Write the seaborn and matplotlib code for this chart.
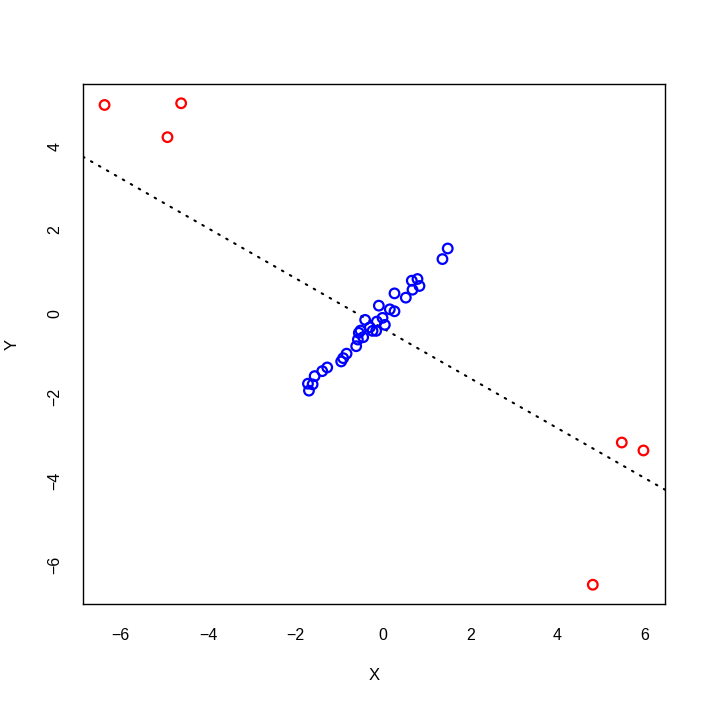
import numpy as np
import pandas as pd
import matplotlib
matplotlib.use("Agg")
import matplotlib.pyplot as plt
import seaborn as sns

# Blue cluster (main data)
x_main = [1.486, 1.365, 0.793, 0.663, 0.839, 0.679, 0.267, 0.526, -0.091, 0.160,
          0.267, -0.405, -0.007, -0.137, 0.046, -0.297, -0.153, -0.235, -0.510, -0.549,
          -0.450, -0.571, -0.610, -0.830, -0.907, -0.953, -1.273, -1.387, -1.561, -1.607,
          -1.714, -1.691]
y_main = [1.555, 1.302, 0.826, 0.786, 0.660, 0.571, 0.483, 0.381, 0.190, 0.102,
          0.055, -0.150, -0.102, -0.190, -0.269, -0.326, -0.412, -0.412, -0.405, -0.460,
          -0.564, -0.619, -0.779, -0.957, -1.064, -1.143, -1.286, -1.374, -1.493, -1.690,
          -1.674, -1.840]
# Red outliers
x_out = [-6.37, -4.617, -4.93, 5.47, 5.966, 4.807]
y_out = [4.983, 5.024, 4.214, -3.079, -3.269, -6.476]
# Dotted reference line
line_intercept = -0.35
line_slope = -0.597

xticks = [-6, -4, -2, 0, 2, 4, 6]
yticks = [-6, -4, -2, 0, 2, 4]

sns.set_style("white")
plt.rcParams['font.family'] = ['Liberation Sans', 'DejaVu Sans']

fig = plt.figure(figsize=(7.08, 7.08), dpi=100)
ax = fig.add_axes([83/708, 1-604/708, (665-83)/708, (604-84)/708])

df_main = pd.DataFrame({"X": x_main, "Y": y_main})
df_out = pd.DataFrame({"X": x_out, "Y": y_out})

sns.scatterplot(data=df_main, x="X", y="Y", ax=ax, s=48, facecolors="none",
                edgecolor="#0000ff", linewidth=1.6, zorder=3)
sns.scatterplot(data=df_out, x="X", y="Y", ax=ax, s=48, facecolors="none",
                edgecolor="#ff0000", linewidth=1.6, zorder=3)

all_x = x_main + x_out
all_y = y_main + y_out
xr = max(all_x) - min(all_x)
yr = max(all_y) - min(all_y)
ax.set_xlim(min(all_x) - 0.04*xr, max(all_x) + 0.04*xr)
ax.set_ylim(min(all_y) - 0.04*yr, max(all_y) + 0.04*yr)

xs = np.array(ax.get_xlim())
ax.plot(xs, line_intercept + line_slope*xs, color="black", lw=1.5,
        linestyle=(0, (0.8, 3.6)), dash_capstyle="round", zorder=2)
ax.set_xlim(xs)

ax.set_xticks(xticks)
ax.set_yticks(yticks)
ax.set_xticklabels([str(t).replace('-', '\u2212') for t in xticks], fontsize=11.5)
ax.set_yticklabels([str(t).replace('-', '\u2212') for t in yticks], fontsize=11.5,
                   rotation=90, va="center")
ax.tick_params(axis="x", direction="out", length=7, width=1, color="black",
               labelcolor="black", pad=10)
ax.tick_params(axis="y", direction="out", length=7, width=1, color="black",
               labelcolor="black", pad=8)
for sp in ax.spines.values():
    sp.set_color("black")
    sp.set_linewidth(1)
ax.set_xlabel("X", fontsize=12, labelpad=18, color="black")
ax.set_ylabel("Y", fontsize=12, labelpad=20, color="black")

fig.savefig("out.png", dpi=100, facecolor="white")
